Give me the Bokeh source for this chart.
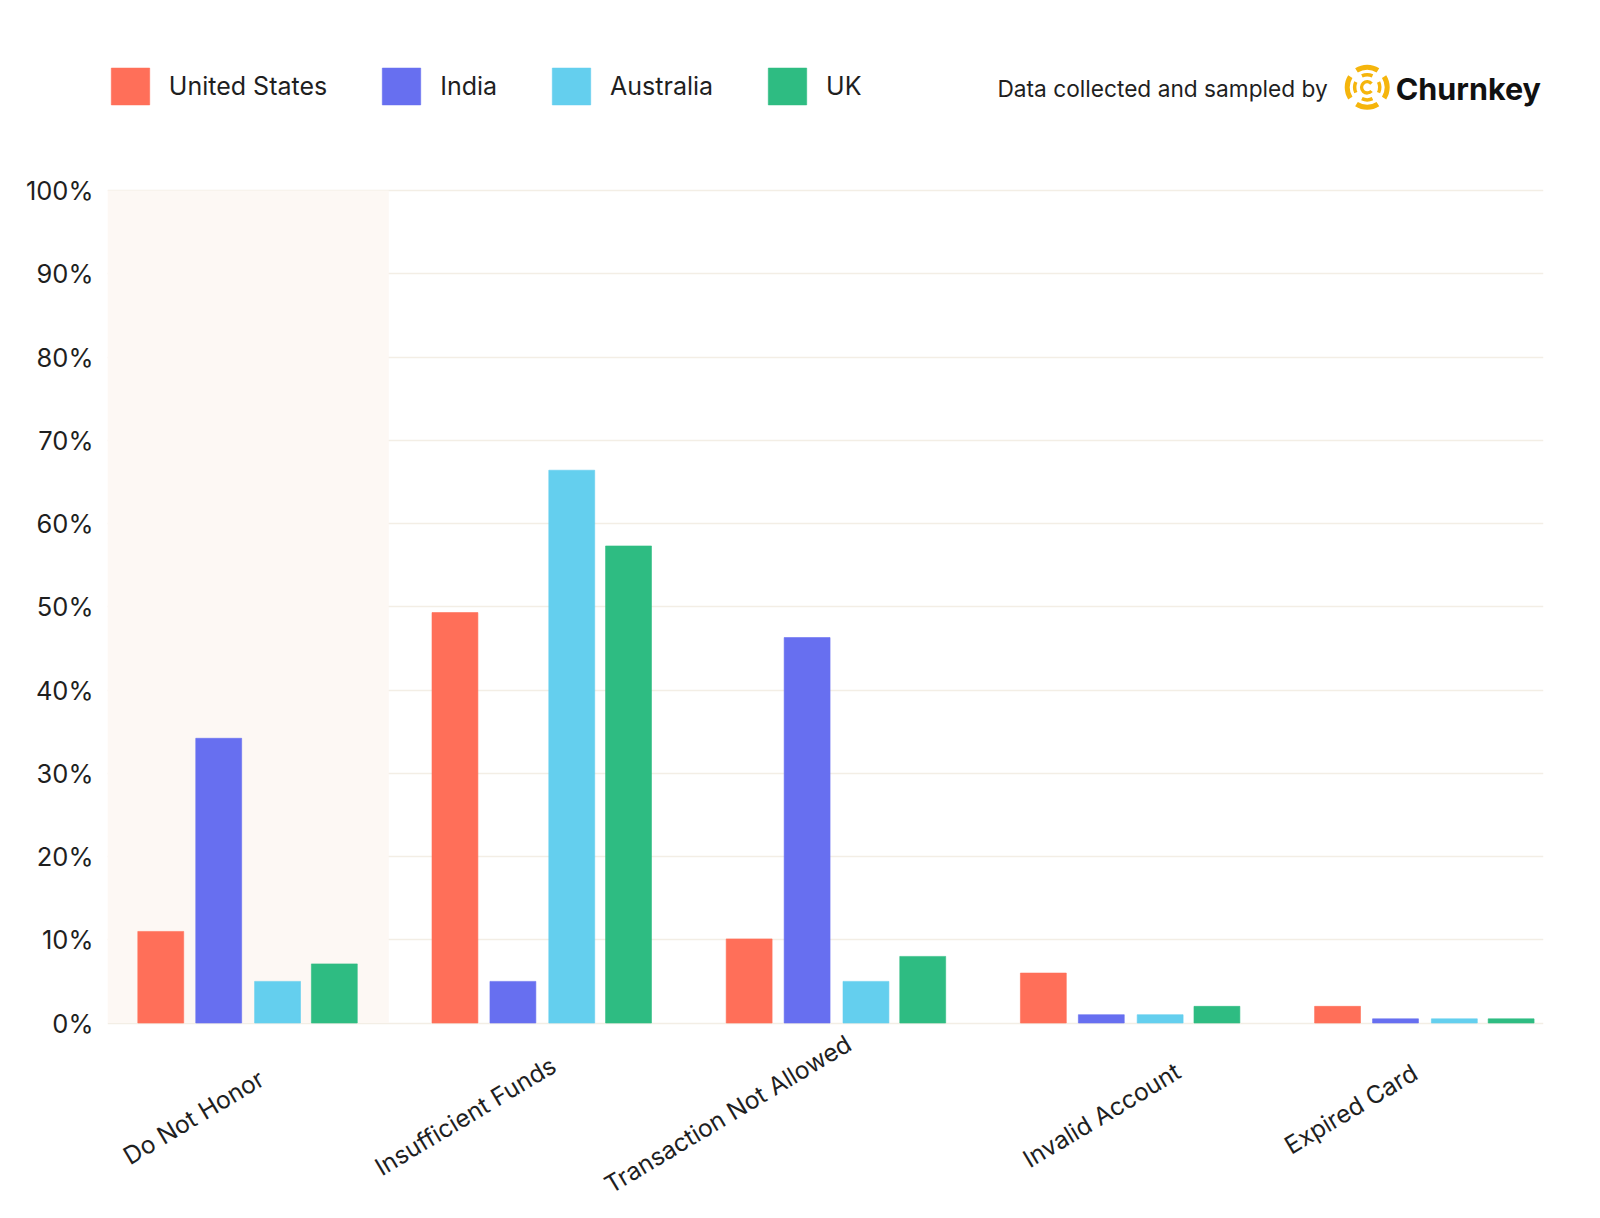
import math
from bokeh.plotting import figure
from bokeh.models import Range1d, BoxAnnotation, Legend, LegendItem, FixedTicker
from bokeh.core.properties import value
from bokeh.embed import file_html
from bokeh.resources import INLINE

# ---- data ----
categories = ["Do Not Honor", "Insufficient Funds", "Transaction Not Allowed",
              "Invalid Account", "Expired Card"]
countries = ["United States", "India", "Australia", "UK"]
us_values = [11.0, 49.3, 10.1, 6.0, 2.0]
india_values = [34.2, 5.0, 46.3, 1.0, 0.5]
australia_values = [5.0, 66.4, 5.0, 1.0, 0.5]
uk_values = [7.1, 57.3, 8.0, 2.0, 0.5]
y_ticks = [0, 10, 20, 30, 40, 50, 60, 70, 80, 90, 100]

series = [us_values, india_values, australia_values, uk_values]
colors = ["#FF6F59", "#676FF0", "#64CFEE", "#2EBC82"]
offsets = [-0.295, -0.098, 0.102, 0.295]
bar_w = 0.156

FONT = "Inter"
TXT = "#1f1f1f"

# ---- layout (page pixels) ----
W, H = 1572, 1215
LEFT, RIGHT = 107, 29
UNIT_PX = 294.2                 # pixels per category
ZERO_Y, PX_PER_PCT = 1022.5, 8.325
x0 = 0.024
x1 = x0 + (W - LEFT - RIGHT) / UNIT_PX
y0 = -(H - ZERO_Y) / PX_PER_PCT
y1 = ZERO_Y / PX_PER_PCT

SHOT = 0.979                    # screenshot scale of the page


def ref_x(px):
    """data x for a horizontal position of the decoration layout"""
    return x0 + ((px - 1) / SHOT - LEFT) / UNIT_PX


def ref_y(py):
    return (ZERO_Y - py / SHOT) / PX_PER_PCT


p = figure(width=W, height=H, output_backend="svg", toolbar_location=None,
           x_range=Range1d(x0, x1), y_range=Range1d(y0, y1),
           min_border_left=LEFT, min_border_right=RIGHT, min_border_top=0,
           min_border_bottom=0)
p.outline_line_color = None
p.background_fill_color = "white"
p.border_fill_color = "white"

# highlighted first category band
p.add_layout(BoxAnnotation(left=x0, right=0.98, bottom=0, top=100,
                           fill_color="#FDF8F4", fill_alpha=1.0, line_color=None,
                           level="underlay"))

centers = [i + 0.5 for i in range(len(categories))]
renderers = []
for vals, col, off, name in zip(series, colors, offsets, countries):
    xs = [c + off for c in centers]
    r = p.vbar(x=xs, top=vals, bottom=0, width=bar_w, fill_color=col,
               line_color=col, line_alpha=0.6, line_width=1)
    renderers.append((name, r))

p.xgrid.grid_line_color = None
p.ygrid.grid_line_color = "#F3EEE5"
p.ygrid.grid_line_width = 1.3
p.ygrid.ticker = FixedTicker(ticks=y_ticks)

p.yaxis.ticker = FixedTicker(ticks=y_ticks)
p.yaxis.major_label_overrides = {t: f"{t}%" for t in y_ticks}
p.yaxis.axis_line_color = None
p.yaxis.major_tick_line_color = None
p.yaxis.minor_tick_line_color = None
p.yaxis.major_label_standoff = 8
p.yaxis.major_label_text_font = FONT
p.yaxis.major_label_text_font_size = "25.5px"
p.yaxis.major_label_text_color = TXT
p.xaxis.visible = False

# rotated category labels (center anchored below each group)
label_dx = [-0.184, -0.26, -0.368, -0.097, -0.25]
label_row = [1093, 1092, 1090, 1091, 1085]
p.text(x=[c + d for c, d in zip(centers, label_dx)],
       y=[ref_y(r) for r in label_row], text=categories, angle=0.54,
       text_align="center", text_baseline="middle", text_font=value(FONT),
       text_font_size="24.5px", text_color=TXT)

# legend (location = bottom-left corner, screen px from frame bottom-left)
legend = Legend(items=[LegendItem(label=n, renderers=[r]) for n, r in renderers],
                orientation="horizontal", location=(-1.2, H - 108.8),
                glyph_width=48, glyph_height=46, label_standoff=15, spacing=50,
                padding=0, margin=0, border_line_color=None,
                background_fill_alpha=0, label_text_font=FONT,
                label_text_font_size="25px", label_text_color=TXT)
p.add_layout(legend, "center")

# attribution
p.text(x=[ref_x(977)], y=[ref_y(86)], text=["Data collected and sampled by"],
       text_font=value(FONT), text_font_size="22.7px", text_color=TXT,
       text_baseline="middle", text_align="left")
p.text(x=[ref_x(1367)], y=[ref_y(86)], text=["Churnkey"], text_font=value(FONT),
       text_font_style="bold", text_font_size="30.5px", text_color="#111111",
       text_baseline="middle", text_align="left")

# logo icon
lx, ly = ref_x(1339), ref_y(85)
gold = "#F5B50C"
q = math.pi / 2
for r_in, r_out, gap in [(17.5, 22.5, 0.22), (10.8, 14.3, 0.35)]:
    p.annular_wedge(x=[lx] * 4, y=[ly] * 4, inner_radius=r_in, outer_radius=r_out,
                    inner_radius_units="screen", outer_radius_units="screen",
                    start_angle=[math.pi / 4 + k * q + gap for k in range(4)],
                    end_angle=[math.pi / 4 + (k + 1) * q - gap for k in range(4)],
                    fill_color=gold, line_color=None)
p.annular_wedge(x=[lx], y=[ly], inner_radius=4, outer_radius=7.3,
                inner_radius_units="screen", outer_radius_units="screen",
                start_angle=[0.7], end_angle=[2 * math.pi - 0.7],
                fill_color=gold, line_color=None)

open("out.html", "w").write(file_html(p, INLINE))
